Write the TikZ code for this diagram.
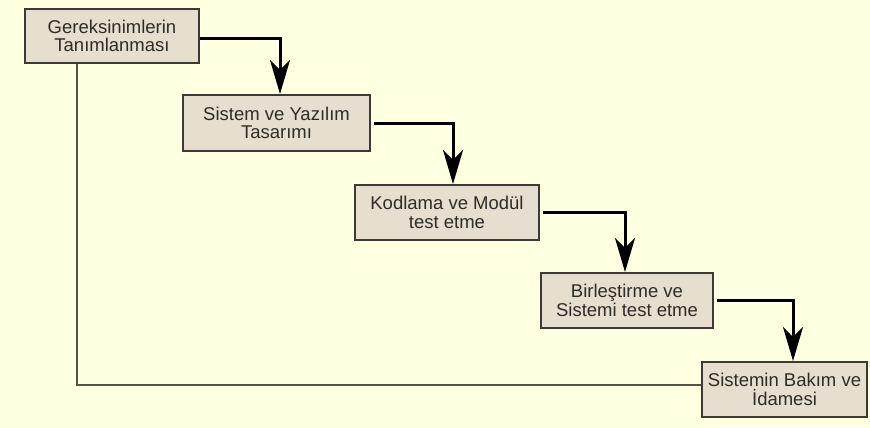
\documentclass[tikz,border=0pt]{standalone}
\usepackage{fontspec}
\setmainfont{Liberation Sans}
\usetikzlibrary{arrows.meta}
\definecolor{paper}{RGB}{255,255,226}
\definecolor{boxfill}{RGB}{230,222,206}
\definecolor{boxedge}{RGB}{60,58,50}
\definecolor{txt}{RGB}{45,45,40}
\definecolor{loopline}{RGB}{85,85,70}
\begin{document}
\begin{tikzpicture}[x=1pt,y=-1pt,
  phase/.style={draw=boxedge, line width=2pt, fill=boxfill, text=txt,
    align=center, inner sep=0pt, minimum height=55pt,
    font=\fontsize{18.5}{18.5}\selectfont},
  flow/.style={draw=black, line width=3pt,
    -{Stealth[length=34pt,width=20pt,inset=10pt]}},
  feedback/.style={draw=loopline, line width=2pt}]
  % page
  \fill[paper] (0,0) rectangle (870,428);
  \useasboundingbox (0,0) rectangle (870,428);

  % phases
  \node[phase, minimum width=174pt, minimum height=54pt] (req) at (112,36)
    {Gereksinimlerin\\Tanımlanması};
  \node[phase, minimum width=187pt, minimum height=56pt] (design) at (276.5,123)
    {Sistem ve Yazılım\\Tasarımı};
  \node[phase, minimum width=184pt] (code) at (447,212.5)
    {Kodlama ve Modül\\test etme};
  \node[phase, minimum width=172pt] (integ) at (627,300.5)
    {Birleştirme ve\\Sistemi test etme};
  \node[phase, minimum width=165pt] (maint) at (784.5,389.5)
    {Sistemin Bakım ve\\İdamesi};

  % waterfall arrows
  \draw[flow] ([yshift=-3pt]req.east) -| ([xshift=3.5pt]design.north);
  \draw[flow] ([xshift=3pt]design.east) -| ([xshift=6pt]code.north);
  \draw[flow] ([xshift=3pt]code.east) -| ([xshift=-2pt]integ.north);
  \draw[flow] ([xshift=3pt]integ.east) -| ([xshift=8.5pt]maint.north);

  % feedback line from maintenance back to requirements
  \draw[feedback] ([xshift=-35pt]req.south) |- ([yshift=4.5pt]maint.west);
\end{tikzpicture}
\end{document}
